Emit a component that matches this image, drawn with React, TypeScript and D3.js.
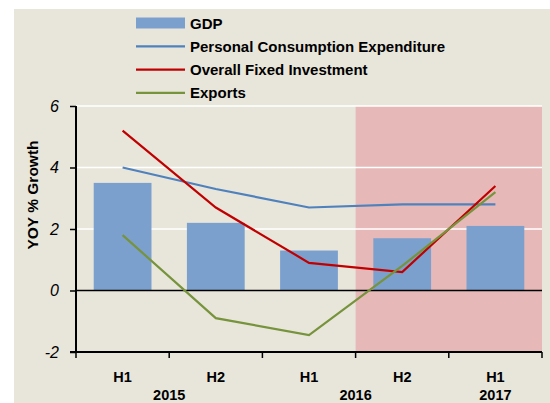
import { useEffect, useRef } from 'react';
import * as d3 from 'd3';

const periods = ['H1 2015', 'H2 2015', 'H1 2016', 'H2 2016', 'H1 2017'];
const halfLabels = ['H1', 'H2', 'H1', 'H2', 'H1'];
const gdp = [3.5, 2.2, 1.3, 1.7, 2.1];
const consumption = [4.0, 3.3, 2.7, 2.8, 2.8];
const fixedInvestment = [5.2, 2.7, 0.9, 0.6, 3.4];
const exports = [1.8, -0.9, -1.45, 0.8, 3.2];
const yTicks = [-2, 0, 2, 4, 6];
const forecastStart = 'H2 2016';

const lineSeries = [
  { name: 'Personal Consumption Expenditure', values: consumption, color: '#4F81BD' },
  { name: 'Overall Fixed Investment', values: fixedInvestment, color: '#C00000' },
  { name: 'Exports', values: exports, color: '#77933C' },
];

export default function App() {
  const svgRef = useRef<SVGSVGElement>(null);

  useEffect(() => {
    if (!svgRef.current) return;
    const svg = d3.select(svgRef.current);
    svg.selectAll('*').remove();

    const width = 550;
    const height = 403;
    const font = '"Liberation Sans", Arial, sans-serif';
    const left = 76, right = 542, top = 106, bottom = 352;

    // page and chart backgrounds
    svg.append('rect').attr('width', width).attr('height', height).attr('fill', '#fff');
    svg.append('rect').attr('x', 14).attr('y', 9).attr('width', width - 14).attr('height', height - 9).attr('fill', '#E8E6DA');

    const x = d3.scaleBand().domain(periods).range([left, right]).paddingInner(0.38).paddingOuter(0.19);
    const xc = d3.scaleBand().domain(periods).range([left, right]);
    const y = d3.scaleLinear().domain([-2, 6]).range([bottom, top]);

    // forecast shading
    svg.append('rect')
      .attr('x', xc(forecastStart)!)
      .attr('y', top)
      .attr('width', right - xc(forecastStart)!)
      .attr('height', bottom - top)
      .attr('fill', '#E6B9B8');

    // gridlines
    svg.selectAll('.grid')
      .data(yTicks.filter(t => t > 0))
      .join('line')
      .attr('x1', left).attr('x2', right)
      .attr('y1', d => y(d)).attr('y2', d => y(d))
      .attr('stroke', '#fff').attr('stroke-width', 1.5);

    // bars
    svg.selectAll('.bar')
      .data(gdp)
      .join('rect')
      .attr('x', (_, i) => x(periods[i])!)
      .attr('width', x.bandwidth())
      .attr('y', d => y(Math.max(0, d)))
      .attr('height', d => Math.abs(y(d) - y(0)))
      .attr('fill', '#7BA0CD');

    // zero line
    svg.append('line')
      .attr('x1', left).attr('x2', right)
      .attr('y1', y(0)).attr('y2', y(0))
      .attr('stroke', '#000').attr('stroke-width', 1.3);

    const line = d3.line<number>()
      .x((_, i) => xc(periods[i])! + xc.bandwidth() / 2)
      .y(d => y(d));

    lineSeries.forEach(s => {
      svg.append('path')
        .attr('d', line(s.values)!)
        .attr('fill', 'none')
        .attr('stroke', s.color)
        .attr('stroke-width', 2.2);
    });

    // axes
    const yAxis = svg.append('g')
      .attr('transform', `translate(${left},0)`)
      .call(d3.axisLeft(y).tickValues(yTicks).tickSize(6).tickFormat(d => String(d)));
    yAxis.select('.domain').attr('stroke', '#000').attr('stroke-width', 2).attr('d', `M0,${top}V${bottom}`);
    yAxis.selectAll('line').attr('stroke', '#000').attr('stroke-width', 1.5);
    yAxis.selectAll('text')
      .attr('font-family', font).attr('font-size', 16).attr('font-style', 'italic')
      .attr('fill', '#000').attr('x', -17);

    const boundaries = d3.range(periods.length + 1).map(i => left + i * xc.step());
    svg.append('line')
      .attr('x1', left - 6).attr('x2', right)
      .attr('y1', bottom).attr('y2', bottom)
      .attr('stroke', '#000').attr('stroke-width', 2);
    svg.selectAll('.xtick')
      .data(boundaries)
      .join('line')
      .attr('x1', d => d).attr('x2', d => d)
      .attr('y1', bottom).attr('y2', bottom + 6)
      .attr('stroke', '#000').attr('stroke-width', 1.5);

    svg.selectAll('.half')
      .data(halfLabels)
      .join('text')
      .attr('x', (_, i) => xc(periods[i])! + xc.bandwidth() / 2)
      .attr('y', 382)
      .attr('text-anchor', 'middle')
      .attr('font-family', font).attr('font-size', 14.5).attr('font-weight', 'bold')
      .text(d => d);

    const years = [
      { label: '2015', x: boundaries[1] },
      { label: '2016', x: boundaries[3] },
      { label: '2017', x: xc('H1 2017')! + xc.bandwidth() / 2 },
    ];
    svg.selectAll('.year')
      .data(years)
      .join('text')
      .attr('x', d => d.x)
      .attr('y', 400)
      .attr('text-anchor', 'middle')
      .attr('font-family', font).attr('font-size', 14.5).attr('font-weight', 'bold')
      .text(d => d.label);

    svg.append('text')
      .attr('transform', `translate(38,195) rotate(-90)`)
      .attr('text-anchor', 'middle')
      .attr('font-family', font).attr('font-size', 15.5).attr('font-weight', 'bold')
      .text('YOY % Growth');

    // legend
    const legend = svg.append('g').attr('transform', 'translate(136,23)');
    const rowH = 23.3;
    const legendSize = 15;
    legend.append('rect').attr('x', 0).attr('y', -5.5).attr('width', 49).attr('height', 11).attr('fill', '#7BA0CD');
    legend.append('text').attr('x', 54).attr('y', 5.5)
      .attr('font-family', font).attr('font-size', legendSize).attr('font-weight', 'bold').text('GDP');
    lineSeries.forEach((s, i) => {
      const ly = (i + 1) * rowH;
      legend.append('line').attr('x1', 0).attr('x2', 49).attr('y1', ly).attr('y2', ly)
        .attr('stroke', s.color).attr('stroke-width', 2.2);
      legend.append('text').attr('x', 54).attr('y', ly + 5.5)
        .attr('font-family', font).attr('font-size', legendSize).attr('font-weight', 'bold').text(s.name);
    });
  }, []);

  return (
    <svg ref={svgRef} width={550} height={403} style={{ position: 'absolute', left: 0, top: 0 }} />
  );
}
